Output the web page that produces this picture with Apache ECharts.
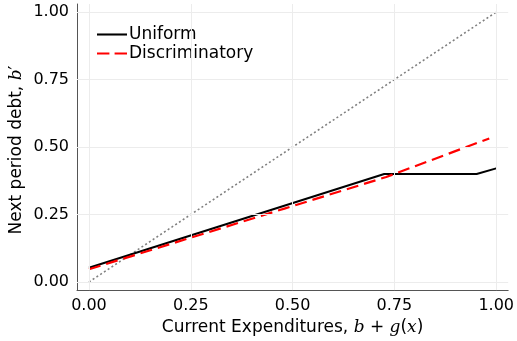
<!DOCTYPE html>
<html>
<head>
<meta charset="utf-8">
<script src="https://cdn.jsdelivr.net/npm/echarts@6/dist/echarts.min.js"></script>
<style>
  html, body { margin: 0; padding: 0; background: #fff; }
  #chart { width: 517px; height: 341px; }
</style>
</head>
<body>
<div id="chart"></div>
<script>
// Policy functions: next period debt against current expenditures
const uniformX = [0.0, 0.725, 0.952, 1.0];
const uniformY = [0.053, 0.400, 0.400, 0.421];

const discrimX = [0.0, 0.48, 0.73, 0.983];
const discrimY = [0.047, 0.272, 0.389, 0.532];

const diagX = [0.0, 1.0];
const diagY = [0.0, 1.0];

const tickValues = [0, 0.25, 0.5, 0.75, 1.0];

const pairs = (xs, ys) => xs.map((x, i) => [x, ys[i]]);

const FONT = 'DejaVu Sans';
const MATH = 'DejaVu Serif';
const gridColor = '#ececec';
const spineColor = '#555555';

function axisCommon(pad) {
  return {
    type: 'value',
    min: -pad,
    max: 1 + pad,
    axisLine: { show: true, onZero: false, lineStyle: { color: spineColor, width: 1 } },
    axisTick: { show: true, inside: true, length: 3, customValues: tickValues, lineStyle: { color: spineColor } },
    axisLabel: {
      customValues: tickValues,
      formatter: v => v.toFixed(2),
      color: '#000', fontFamily: FONT, fontSize: 16
    },
    splitLine: { show: false }
  };
}

const chart = echarts.init(document.getElementById('chart'), null, { renderer: 'canvas' });

const xAxis = axisCommon(0.0294);
xAxis.axisLabel.margin = 8;
xAxis.name = '{t|Current Expenditures, }{m|b}{t| + }{m|g}{t|(}{m|x}{t|)}';
xAxis.nameLocation = 'middle';
xAxis.nameGap = 23;
xAxis.nameTextStyle = {
  rich: {
    t: { fontFamily: FONT, fontSize: 17, color: '#000' },
    m: { fontFamily: MATH, fontStyle: 'italic', fontSize: 17, color: '#000' }
  }
};

const yAxis = axisCommon(0.03);
yAxis.axisLabel.margin = 8;

// faint grid lines at the tick positions
const gridLines = [];
tickValues.forEach(v => {
  gridLines.push([{ coord: [v, -0.03] }, { coord: [v, 1.03] }]);
  gridLines.push([{ coord: [-0.0294, v] }, { coord: [1.0294, v] }]);
});

// legend keys: a solid bar and a two-dash bar
const solidKey = 'path://M0,0H29V2H0Z';
const dashKey = 'path://M0,0H12V2H0Z M17,0H29V2H17Z';

chart.setOption({
  animation: false,
  backgroundColor: '#ffffff',
  grid: { left: 77, right: 8, top: 4, bottom: 49, containLabel: false },
  xAxis: xAxis,
  yAxis: yAxis,
  legend: {
    orient: 'vertical',
    left: 97,
    top: 26,
    padding: 0,
    itemWidth: 30,
    itemHeight: 12,
    itemGap: 2,
    textStyle: { fontFamily: FONT, fontSize: 17, color: '#000', padding: [0, 0, 0, -3] },
    data: [
      { name: 'Uniform', icon: solidKey },
      { name: 'Discriminatory', icon: dashKey }
    ]
  },
  graphic: [{
    type: 'text',
    x: 17,
    y: 150,
    rotation: Math.PI / 2,
    style: {
      text: '{t|Next period debt, }{m|b}{t|′}',
      align: 'center',
      verticalAlign: 'middle',
      rich: {
        t: { fontFamily: FONT, fontSize: 17, fill: '#000' },
        m: { fontFamily: MATH, fontStyle: 'italic', fontSize: 17, fill: '#000' }
      }
    }
  }],
  series: [
    {
      name: 'grid',
      type: 'line',
      data: [],
      silent: true,
      markLine: {
        silent: true,
        symbol: ['none', 'none'],
        label: { show: false },
        lineStyle: { color: gridColor, width: 1, type: 'solid' },
        data: gridLines
      }
    },
    {
      name: '45°',
      type: 'line',
      data: pairs(diagX, diagY),
      showSymbol: false,
      symbol: 'none',
      lineStyle: { color: '#808080', width: 1.6, type: [2, 2.5] },
      z: 2
    },
    {
      name: 'Discriminatory',
      type: 'line',
      data: pairs(discrimX, discrimY),
      showSymbol: false,
      symbol: 'none',
      itemStyle: { color: '#ff0000' },
      lineStyle: { color: '#ff0000', width: 2.2, type: [12, 6] },
      z: 4
    },
    {
      name: 'Uniform',
      type: 'line',
      data: pairs(uniformX, uniformY),
      showSymbol: false,
      symbol: 'none',
      itemStyle: { color: '#000000' },
      lineStyle: { color: '#000000', width: 2, type: 'solid' },
      z: 3
    }
  ]
});
</script>
</body>
</html>
